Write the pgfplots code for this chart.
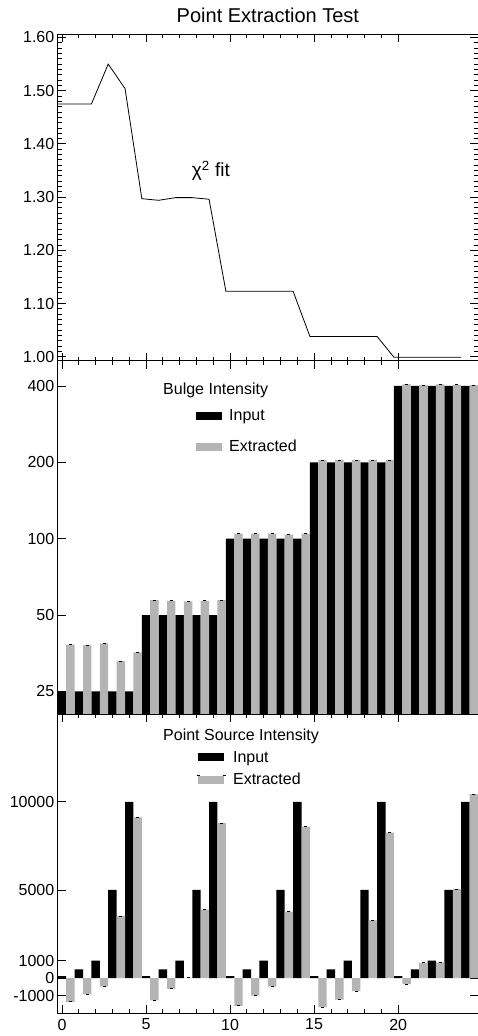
\documentclass[border=0pt]{standalone}
\usepackage{pgfplots}
\pgfplotsset{compat=1.18}
\usepackage{pgfplotstable}
\usepackage{fontspec}
\setmainfont{Liberation Sans}
\definecolor{barg}{RGB}{180,180,180}

\pgfplotstableread{
x y
-0.25 1.475
0.75 1.475
1.75 1.475
2.75 1.550
3.75 1.504
4.75 1.297
5.75 1.294
6.75 1.299
7.75 1.299
8.75 1.296
9.75 1.123
10.75 1.123
11.75 1.123
12.75 1.123
13.75 1.123
14.75 1.038
15.75 1.038
16.75 1.038
17.75 1.038
18.75 1.038
19.75 0.999
20.75 0.999
21.75 0.999
22.75 0.999
23.75 0.999
}\chisq

\pgfplotstableread{
x y
0 25
1 25
2 25
3 25
4 25
5 50
6 50
7 50
8 50
9 50
10 100
11 100
12 100
13 100
14 100
15 200
16 200
17 200
18 200
19 200
20 400
21 400
22 400
23 400
24 400
}\bulgein

\pgfplotstableread{
x y
0.5 38.2
1.5 38.0
2.5 38.7
3.5 32.9
4.5 35.6
5.5 57.3
6.5 56.9
7.5 56.6
8.5 56.9
9.5 57.3
10.5 104.6
11.5 104.6
12.5 104.6
13.5 103.7
14.5 104.6
15.5 204.3
16.5 204.3
17.5 204.3
18.5 204.3
19.5 204.3
20.5 406
21.5 403
22.5 406
23.5 404
24.5 403
}\bulgeout

\pgfplotstableread{
x y
0 120
1 500
2 1000
3 5000
4 10000
5 120
6 500
7 1000
8 5000
9 10000
10 120
11 500
12 1000
13 5000
14 10000
15 120
16 500
17 1000
18 5000
19 10000
20 120
21 500
22 1000
23 5000
24 10000
}\psin

\pgfplotstableread{
x y
0.5 -1340
1.5 -906
2.5 -472
3.5 3520
4.5 9110
5.5 -1264
6.5 -604
7.5 20
8.5 3885
9.5 8788
10.5 -1566
11.5 -981
12.5 -472
13.5 3769
14.5 8599
15.5 -1642
16.5 -1208
17.5 -736
18.5 3277
19.5 8258
20.5 -340
21.5 875
22.5 900
23.5 5057
24.5 10436
}\psout

\pgfplotsset{
  panel/.style={
    scale only axis,
    width=420.2pt,
    xmin=-0.25, xmax=24.75,
    axis line style={line width=1pt, black},
    every tick/.style={black, line width=0.8pt},
    major tick length=8pt,
    minor tick length=4pt,
    tick align=inside,
    xtick pos=both, ytick pos=both,
    xtick={0,5,10,15,20},
    minor x tick num=4,
    tick label style={font=\fontsize{16}{19}\selectfont},
    scaled x ticks=false, scaled y ticks=false,
    clip=true,
  },
}

\begin{document}
\begin{tikzpicture}
\path[use as bounding box] (0pt,0pt) rectangle (477pt,1036pt);

% ---------- top panel ----------
\begin{axis}[panel,
  at={(57.8pt,675pt)}, anchor=south west,
  height=326.7pt,
  ymin=0.992, ymax=1.606,
  ytick={1.0,1.1,1.2,1.3,1.4,1.5,1.6},
  yticklabels={1.00,1.10,1.20,1.30,1.40,1.50,1.60},
  minor y tick num=9,
  xticklabels={,,,,},
  title={Point Extraction Test},
  title style={at={(0.5,1)}, anchor=base, yshift=6pt, font=\fontsize{20}{23}\selectfont},
]
\addplot[black, line width=0.8pt] table[x=x,y=y] {\chisq};
\node[anchor=base west, inner sep=0pt, font=\fontsize{19}{22}\selectfont] at (axis cs:7.72,1.339) {χ\textsuperscript{2} fit};
\end{axis}

% ---------- middle panel ----------
\begin{axis}[panel,
  at={(57.8pt,321.7pt)}, anchor=south west,
  height=353.3pt,
  ymode=log,
  ymin=20.3, ymax=502,
  ytick={25,50,100,200,400},
  yticklabels={25,50,100,200,400},
  xticklabels={,,,,},
  legend style={at={(rel axis cs:0.3289,0.869)}, anchor=north west, draw=none, fill=none,
    inner sep=0pt, row sep=14pt, column sep=5pt,
    font=\fontsize{16}{19}\selectfont, nodes={inner sep=2pt}},
  legend cell align=left,
]
\addplot[ybar, bar width=0.5, bar shift=0pt, fill=black, draw=none,
  legend image code/.code={\fill[black] (0pt,-4pt) rectangle (26pt,4pt);}]
  table[x=x,y=y] {\bulgein};
\addlegendentry{Input}
\addplot[ybar, bar width=0.5, bar shift=0pt, fill=barg, draw=none,
  legend image code/.code={\fill[barg] (0pt,-4pt) rectangle (26pt,4pt);}]
  table[x=x,y=y] {\bulgeout};
\addlegendentry{Extracted}
\addplot[only marks, mark=-, mark size=1.5pt, mark options={line width=0.9pt, black}, forget plot]
  table[x=x,y=y] {\bulgeout};
\node[anchor=base west, inner sep=0pt, font=\fontsize{16}{19}\selectfont] at (rel axis cs:0.2504,0.9057) {Bulge Intensity};
\end{axis}

% ---------- bottom panel ----------
\begin{axis}[panel,
  at={(57.8pt,22.7pt)}, anchor=south west,
  height=299pt,
  ymin=-1990, ymax=14960,
  ytick={-1000,0,1000,5000,10000},
  yticklabels={-1000,0,1000,5000,10000},
  xticklabels={0,5,10,15,20},
  xticklabel style={yshift=-2pt},
  legend style={at={(rel axis cs:0.3289,0.884)}, anchor=north west, draw=none, fill=none,
    inner sep=0pt, row sep=5.5pt, column sep=5pt,
    font=\fontsize{16}{19}\selectfont, nodes={inner sep=2pt}},
  legend cell align=left,
]
\addplot[ybar, bar width=0.5, bar shift=0pt, fill=black, draw=none,
  legend image code/.code={\fill[black] (0pt,-4pt) rectangle (26pt,4pt);}]
  table[x=x,y=y] {\psin};
\addlegendentry{Input}
\addplot[ybar, bar width=0.5, bar shift=0pt, fill=barg, draw=none,
  legend image code/.code={\fill[barg] (0pt,-4pt) rectangle (26pt,4pt);
    \draw[black, line width=0.9pt] (-1.5pt,4pt) -- (1.5pt,4pt);
    \draw[black, line width=0.9pt] (24.5pt,4pt) -- (27.5pt,4pt);}]
  table[x=x,y=y] {\psout};
\addlegendentry{Extracted}
\addplot[only marks, mark=-, mark size=1.5pt, mark options={line width=0.9pt, black}, forget plot]
  table[x=x,y=y] {\psout};
\node[anchor=base west, inner sep=0pt, font=\fontsize{16}{19}\selectfont] at (rel axis cs:0.2504,0.9117) {Point Source Intensity};
\end{axis}
\end{tikzpicture}
\end{document}
